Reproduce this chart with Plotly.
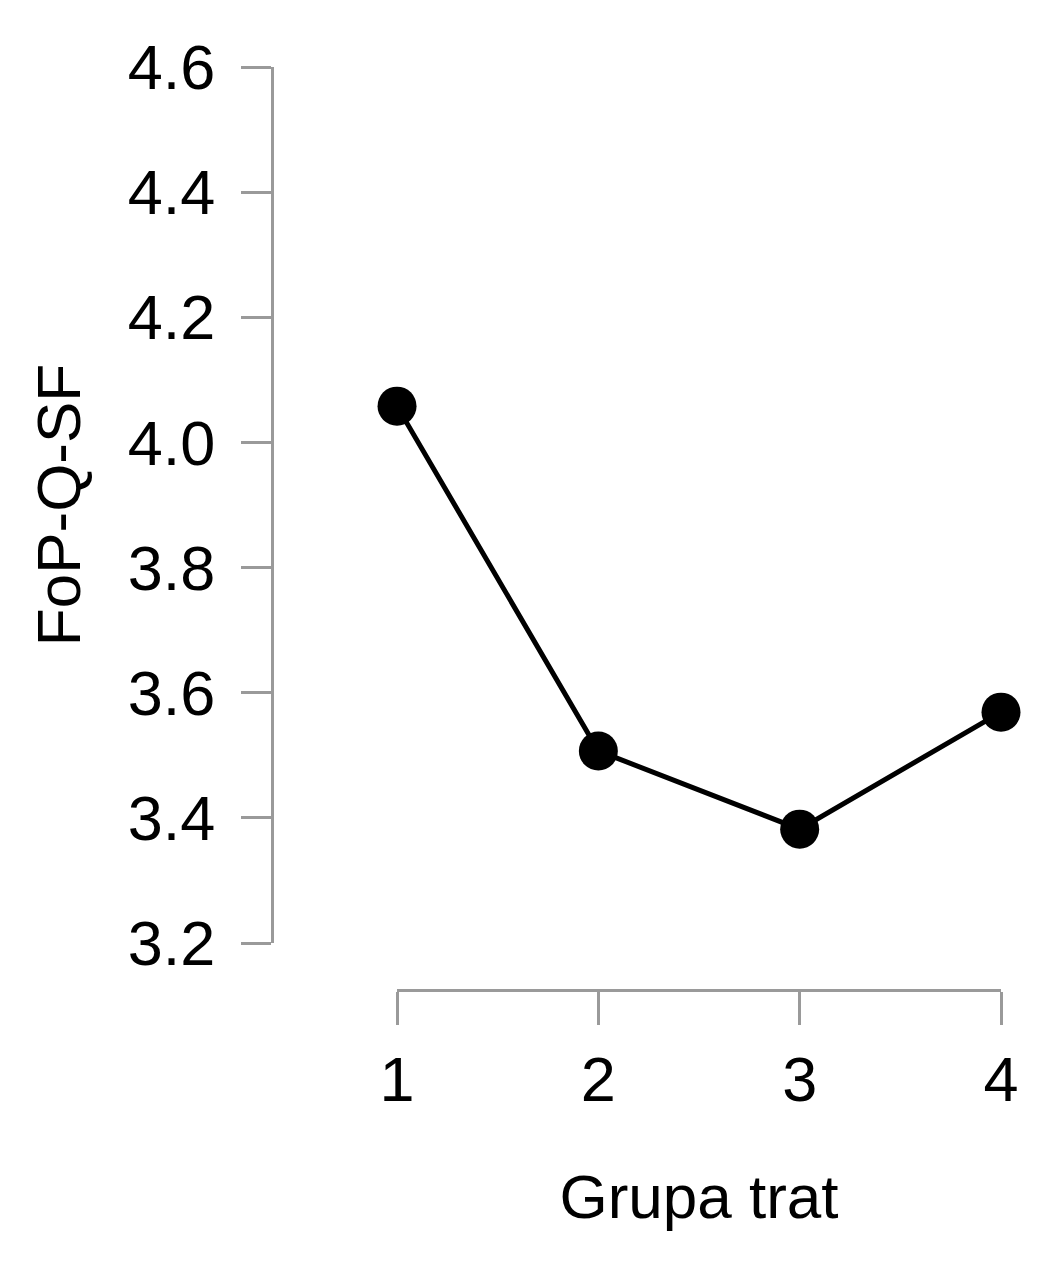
import plotly.graph_objects as go

groups = [1, 2, 3, 4]
fopq_means = [4.058, 3.507, 3.382, 3.569]
y_ticks = [3.2, 3.4, 3.6, 3.8, 4.0, 4.2, 4.4, 4.6]

axis_grey = "#9a9a9a"
font_name = "Liberation Sans, Arial, sans-serif"

fig = go.Figure()
fig.add_trace(go.Scatter(
    x=groups, y=fopq_means,
    mode="lines+markers",
    line=dict(color="black", width=5),
    marker=dict(color="black", size=39),
    cliponaxis=False,
    showlegend=False,
))

# detached axes (R / JASP look): each axis is free and only spans its ticks
fig.update_xaxes(
    domain=[0.1715, 1], anchor="free", position=0,
    range=[min(groups), max(groups)], tickvals=groups,
    ticks="outside", ticklen=33, tickwidth=3, tickcolor=axis_grey,
    showline=True, linecolor=axis_grey, linewidth=3,
    showgrid=False, zeroline=False, tickfont=dict(size=63, color="black"),
    ticklabelstandoff=0,
    title=dict(text="Grupa trat", font=dict(size=62, color="black"), standoff=62),
)
fig.update_yaxes(
    domain=[0.0509, 1], anchor="free", position=0,
    range=[min(y_ticks), max(y_ticks)], tickvals=y_ticks, tickformat=".1f",
    ticks="outside", ticklen=30, tickwidth=3, tickcolor=axis_grey,
    showline=True, linecolor=axis_grey, linewidth=3,
    showgrid=False, zeroline=False, tickfont=dict(size=63, color="black"),
    ticklabelstandoff=13,
    title=dict(text="FoP-Q-SF", font=dict(size=62, color="black"), standoff=26),
)

fig.update_layout(
    width=1045, height=1261,
    margin=dict(l=264, r=52, t=59, b=279, pad=0),
    plot_bgcolor="white", paper_bgcolor="white",
    font=dict(family=font_name, color="black"),
)

fig.write_html("out.html")
